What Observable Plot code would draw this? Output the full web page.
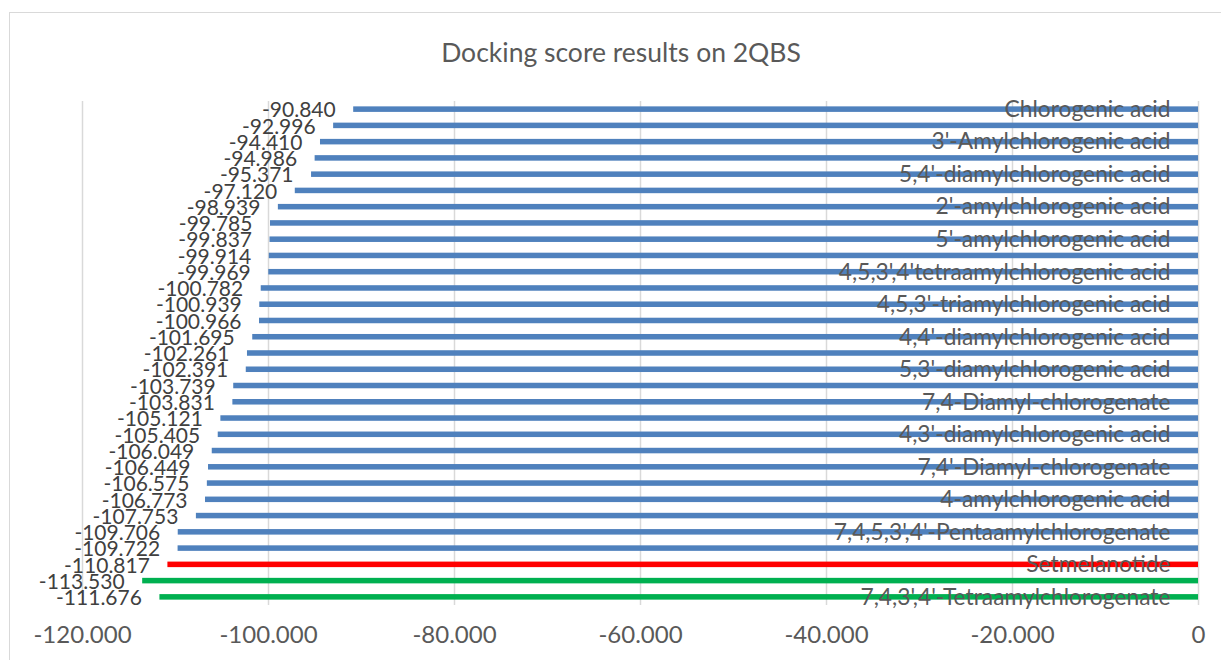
<!DOCTYPE html>
<html>
<head>
<meta charset="utf-8">
<script src="https://cdn.jsdelivr.net/npm/d3@7"></script>
<script src="https://cdn.jsdelivr.net/npm/@observablehq/plot@0.6"></script>
<style>
  html, body { margin: 0; padding: 0; background: #fff; overflow: hidden; }
  body { width: 1221px; height: 660px; position: relative; font-family: Lato, "Open Sans", sans-serif; }
  #frame { position: absolute; left: 9px; top: 12px; width: 1300px; height: 700px; border: 1.5px solid #d9d9d9; box-sizing: border-box; }
  #title { position: absolute; left: 9px; top: 0; width: 1224px; height: 80px; line-height: 104px; text-align: center; font-size: 26.5px; color: #595959; }
  #chart { position: absolute; left: 0; top: 80px; line-height: 0; }
  #chart svg { display: block; }
</style>
</head>
<body>
<div id="frame"></div>
<div id="title">Docking score results on 2QBS</div>
<div id="chart"></div>
<script>
// Bars listed top to bottom as in the reference
const scores = [
  -90.840, -92.996, -94.410, -94.986, -95.371, -97.120, -98.939, -99.785,
  -99.837, -99.914, -99.969, -100.782, -100.939, -100.966, -101.695, -102.261,
  -102.391, -103.739, -103.831, -105.121, -105.405, -106.049, -106.449, -106.575,
  -106.773, -107.753, -109.706, -109.722, -110.817, -113.530, -111.676
];
// Compound names (only every other one is printed on the category axis)
const compounds = [
  "Chlorogenic acid", "",
  "3'-Amylchlorogenic acid", "",
  "5,4'-diamylchlorogenic acid", "",
  "2'-amylchlorogenic acid", "",
  "5'-amylchlorogenic acid", "",
  "4,5,3',4'tetraamylchlorogenic acid", "",
  "4,5,3'-triamylchlorogenic acid", "",
  "4,4'-diamylchlorogenic acid", "",
  "5,3'-diamylchlorogenic acid", "",
  "7,4-Diamyl-chlorogenate", "",
  "4,3'-diamylchlorogenic acid", "",
  "7,4'-Diamyl-chlorogenate", "",
  "4-amylchlorogenic acid", "",
  "7,4,5,3',4'-Pentaamylchlorogenate", "",
  "Setmelanotide", "",
  "7,4,3',4'-Tetraamylchlorogenate"
];
// Group of each bar
const groups = [
  "ligand","ligand","ligand","ligand","ligand","ligand","ligand","ligand",
  "ligand","ligand","ligand","ligand","ligand","ligand","ligand","ligand",
  "ligand","ligand","ligand","ligand","ligand","ligand","ligand","ligand",
  "ligand","ligand","ligand","ligand","control","best","best"
];
const xTicks = [-120, -100, -80, -60, -40, -20, 0];

const data = scores.map((v, i) => ({i, score: v, name: compounds[i], group: groups[i]}));

const chart = Plot.plot({
  width: 1221,
  height: 580,
  marginLeft: 82,
  marginRight: 23,
  marginTop: 21,
  marginBottom: 55,
  style: { fontFamily: "Lato, 'Open Sans', sans-serif", background: "transparent", overflow: "visible" },
  x: { domain: [-120, 0], ticks: xTicks },
  y: { domain: d3.range(scores.length), paddingInner: 0.66, paddingOuter: 0.33, round: false, axis: null },
  color: { domain: ["ligand", "control", "best"], range: ["#4F81BD", "#FF0000", "#00B050"] },
  marks: [
    Plot.gridX(xTicks, { stroke: "#d9d9d9", strokeOpacity: 1, strokeWidth: 1.5 }),
    Plot.axisX(xTicks, {
      tickSize: 0, tickPadding: 20, fontSize: 24, fill: "#595959", label: null,
      tickFormat: d => d === 0 ? "0" : d.toFixed(3)
    }),
    Plot.barX(data, { x1: 0, x2: "score", y: "i", fill: "group" }),
    Plot.text(data, {
      x: "score", y: "i", text: d => d.score.toFixed(3), textAnchor: "end",
      dx: -18, dy: 1, fontSize: 21, fill: "#404040"
    }),
    Plot.text(data.filter(d => d.name), {
      x: 0, y: "i", text: "name", textAnchor: "end",
      dx: -28, dy: 0, fontSize: 22.8, fill: "#595959"
    })
  ]
});
document.getElementById("chart").appendChild(chart);
</script>
</body>
</html>
